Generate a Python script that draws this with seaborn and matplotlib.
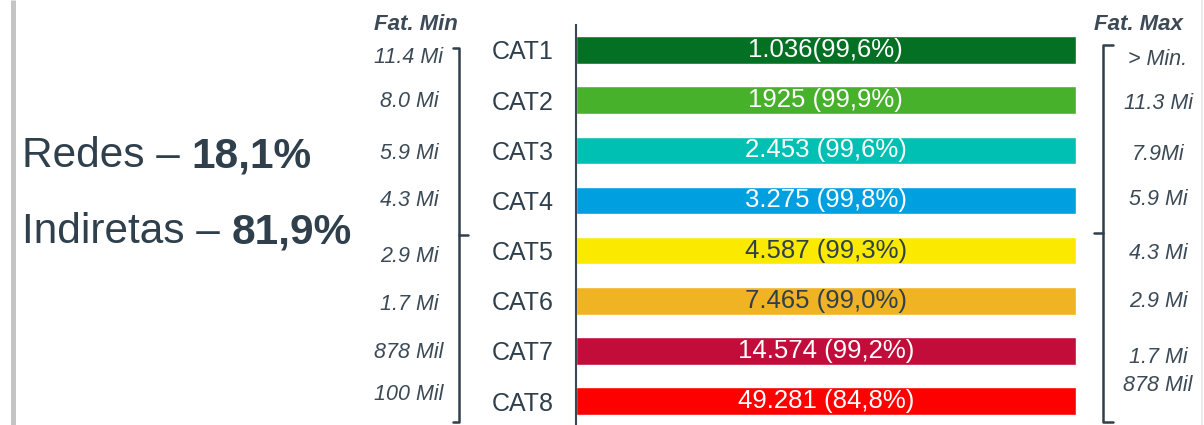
import matplotlib.pyplot as plt
import seaborn as sns
import pandas as pd

# Dados do gráfico
categorias = ["CAT1", "CAT2", "CAT3", "CAT4", "CAT5", "CAT6", "CAT7", "CAT8"]
valores = [1, 1, 1, 1, 1, 1, 1, 1]  # todas as barras com o mesmo comprimento
rotulos = ["1.036(99,6%)", "1925 (99,9%)", "2.453 (99,6%)", "3.275 (99,8%)",
           "4.587 (99,3%)", "7.465 (99,0%)", "14.574 (99,2%)", "49.281 (84,8%)"]
fat_min = ["11.4 Mi", "8.0 Mi", "5.9 Mi", "4.3 Mi", "2.9 Mi", "1.7 Mi", "878 Mil", "100 Mil"]
fat_max = ["> Min.", "11.3 Mi", "7.9Mi", "5.9 Mi", "4.3 Mi", "2.9 Mi", "1.7 Mi", "878 Mil"]

# Estilo
cores = ["#037023", "#47b12b", "#00bfb3", "#00a0e0", "#fbe900", "#f0b323", "#c20d3a", "#fe0000"]
escuro = "#2f3f4c"
cor_rotulo = ["white", "white", "white", "white", escuro, escuro, "white", "white"]
# posicoes (pixels, a partir do topo) dos textos laterais
y_min = [63, 107, 159, 206, 262, 310, 358, 400]
y_max = [65, 109, 160, 205, 259, 307, 363, 391]

sns.set_style("white")
plt.rcParams["font.family"] = ["Liberation Sans", "DejaVu Sans"]

W, H = 1204, 425
fig = plt.figure(figsize=(W / 100, H / 100), dpi=100)

df = pd.DataFrame({"categoria": categorias, "valor": valores})

# eixo das barras: x de 575.5 a 1076 px, y de 25 a 425 px
ax = fig.add_axes([575.5 / W, 0, (1076 - 575.5) / W, (H - 25) / H])
sns.barplot(data=df, y="categoria", x="valor", hue="categoria", palette=cores,
            legend=False, orient="h", width=0.55, saturation=1, ax=ax)
ax.set_xlim(0, 1)
ax.set_ylim(7.476, -0.498)
ax.set_xlabel("")
ax.set_ylabel("")
ax.set_xticks([])
ax.tick_params(axis="y", length=0, pad=16, labelsize=18, labelcolor=escuro)
for s in ["top", "right", "bottom"]:
    ax.spines[s].set_visible(False)
ax.spines["left"].set_color("#3a4753")
ax.spines["left"].set_linewidth(1.5)

for cont, rot, cor in zip(ax.containers, rotulos, cor_rotulo):
    ax.bar_label(cont, labels=[rot], label_type="center", color=cor, fontsize=18.5)

# camada de anotacoes em coordenadas de pixel
ov = fig.add_axes([0, 0, 1, 1])
ov.set_xlim(0, W)
ov.set_ylim(H, 0)
ov.axis("off")

# bordas cinza
ov.plot([12.5, 12.5], [0, H], color="#c4c4c4", lw=3.6, solid_capstyle="butt")
ov.plot([1202, 1202], [0, H], color="#e6e6e6", lw=1.2)

# textos principais
t1 = ov.text(22, 167, "Redes – ", fontsize=30.5, color=escuro, va="baseline")
ov.annotate("18,1%", xy=(1, 0), xycoords=t1, fontsize=30.5, fontweight="bold",
            color=escuro, va="bottom", ha="left")
t2 = ov.text(22, 243, "Indiretas – ", fontsize=30.5, color=escuro, va="baseline")
ov.annotate("81,9%", xy=(1, 0), xycoords=t2, fontsize=30.5, fontweight="bold",
            color=escuro, va="bottom", ha="left")

# cabecalhos
ov.text(416, 30, "Fat. Min", fontsize=16, fontweight="bold", fontstyle="italic",
        color="#3b4a56", ha="center", va="baseline")
ov.text(1138, 30, "Fat. Max", fontsize=16, fontweight="bold", fontstyle="italic",
        color="#3b4a56", ha="center", va="baseline")

for txt, y in zip(fat_min, y_min):
    ov.text(409, y, txt, fontsize=15.5, fontstyle="italic", color="#3b4a56",
            ha="center", va="baseline")
for txt, y in zip(fat_max, y_max):
    ov.text(1158, y, txt, fontsize=15.5, fontstyle="italic", color="#3b4a56",
            ha="center", va="baseline")

# chaves
ov.plot([453, 459, 459, 453], [48, 48, 422, 422], color=escuro, lw=1.8)
ov.plot([459, 468], [235, 235], color=escuro, lw=1.8)
ov.plot([1113, 1103, 1103, 1113], [45, 45, 422, 422], color=escuro, lw=1.8)
ov.plot([1103, 1094], [233, 233], color=escuro, lw=1.8)

fig.savefig("out.png", dpi=100)
